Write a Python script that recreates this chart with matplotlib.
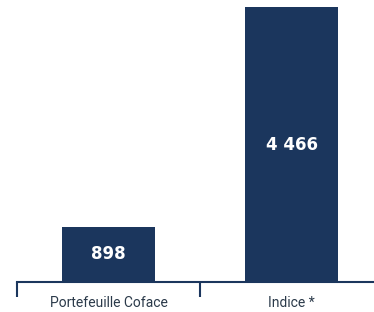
import matplotlib
matplotlib.use("Agg")
import matplotlib.pyplot as plt
from matplotlib.ticker import FixedLocator

categories = ["Portefeuille Coface", "Indice *"]
values = [898, 4466]
value_labels = ["898", "4 466"]

navy = "#1b365d"

fig = plt.figure(figsize=(3.74, 3.12), dpi=100)
ax = fig.add_axes([17/374, 30/312, 357/374, 282/312])

x = list(range(len(categories)))
ax.bar(x, values, width=0.503, color=navy)
ax.set_xlim(-0.5, -0.5 + 357/183)
ax.set_ylim(0, 4466*282/275)

for xi, v, lab in zip(x, values, value_labels):
    ax.text(xi, v/2, lab, ha="center", va="center", color="white",
            fontsize=12, fontweight="bold", family=["DejaVu Sans"])

for s in ["top", "right", "left"]:
    ax.spines[s].set_visible(False)
ax.spines["bottom"].set_color(navy)
ax.spines["bottom"].set_linewidth(1.5)
ax.set_yticks([])
ax.set_xticks(x)
ax.set_xticklabels(categories, family=["Liberation Sans Narrow", "Roboto", "DejaVu Sans"],
                   fontsize=10, color="#2b3a4a")
ax.tick_params(axis="x", which="major", length=0, pad=10)
ax.xaxis.set_minor_locator(FixedLocator([-0.5, 0.5, 1.5]))
ax.tick_params(axis="x", which="minor", length=11, width=1.5, color=navy, direction="out")

fig.savefig("out.png", dpi=100)
